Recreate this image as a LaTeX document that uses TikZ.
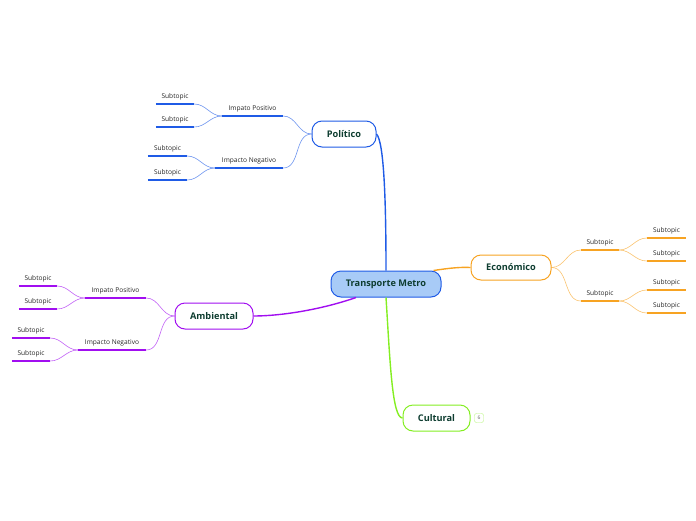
\documentclass[tikz,border=0pt]{standalone}
\usepackage{fontspec}
\setmainfont{Open Sans}
\definecolor{cblue}{HTML}{1F5BE6}
\definecolor{cpurple}{HTML}{A10EF0}
\definecolor{corange}{HTML}{F7A322}
\definecolor{cgreen}{HTML}{84EE22}
\definecolor{cfill}{HTML}{A8CBF7}
\definecolor{ctext}{HTML}{0E3D30}
\begin{document}
\begin{tikzpicture}[x=1pt,y=-1pt,
  mainbox/.style={draw,line width=1pt,rounded corners=10pt,fill=white,minimum height=26pt,
    font=\fontsize{9.2}{11}\selectfont\bfseries,text=ctext,inner sep=0pt},
  lbl/.style={anchor=south,inner xsep=0pt,inner ysep=3.8pt,text height=5pt,text depth=1.5pt,
    font=\fontsize{6.6}{7.5}\selectfont,text=black!85},
  uline/.style={line width=1.6pt},
  branch/.style={line width=0.6pt,draw opacity=0.65},
  trunk/.style={line width=1.4pt}]
\useasboundingbox (0,0) rectangle (696,520);

% central
\node[mainbox,draw=cblue,fill=cfill,minimum width=110pt] (cen) at (386,284) {Transporte Metro};
\node[mainbox,draw=cblue,minimum width=64pt] (pol) at (344,134) {Político};
\node[mainbox,draw=corange,minimum width=80pt,minimum height=25pt] (eco) at (511,267.5) {Económico};
\node[mainbox,draw=cpurple,minimum width=78pt] (amb) at (214,316) {Ambiental};
\node[mainbox,draw=cgreen,minimum width=67pt] (cul) at (436.5,418) {Cultural};
\node[draw=cgreen!60,rounded corners=2pt,minimum width=9pt,minimum height=9pt,inner sep=0pt,
  font=\fontsize{5}{6}\selectfont,text=black!60] (badge) at (479,418) {6};

% trunks
\draw[trunk,cblue] (cen.north) .. controls (386,200) and (384,142) .. (pol.east);
\draw[trunk,corange] ([xshift=-8pt]cen.north east) .. controls (450,268) and (460,267) .. (eco.west);
\draw[trunk,cpurple] ([xshift=-30pt]cen.south) .. controls (320,310) and (280,316) .. (amb.east);
\draw[trunk,cgreen] (cen.south) .. controls (390,360) and (392,418) .. (cul.west);

% Politico
\node[lbl,minimum width=61pt] (pp) at (252.5,116) {Impato Positivo};
\node[lbl,minimum width=68pt] (pn) at (249,168) {Impacto Negativo};
\node[lbl,minimum width=38pt] (pp1) at (175,104) {Subtopic};
\node[lbl,minimum width=38pt] (pp2) at (175,127) {Subtopic};
\node[lbl,minimum width=39pt] (pn1) at (167.5,156) {Subtopic};
\node[lbl,minimum width=39pt] (pn2) at (167.5,180) {Subtopic};
\foreach \n in {pp,pn,pp1,pp2,pn1,pn2}{\draw[uline,cblue] (\n.south west) -- (\n.south east);}
\draw[branch,cblue] (pol.west) to[out=180,in=0] (pp.south east);
\draw[branch,cblue] (pol.west) to[out=180,in=0] (pn.south east);
\draw[branch,cblue] (pp.south west) to[out=180,in=0] (pp1.south east);
\draw[branch,cblue] (pp.south west) to[out=180,in=0] (pp2.south east);
\draw[branch,cblue] (pn.south west) to[out=180,in=0] (pn1.south east);
\draw[branch,cblue] (pn.south west) to[out=180,in=0] (pn2.south east);

% Ambiental
\node[lbl,minimum width=61pt] (ap) at (115.5,298) {Impato Positivo};
\node[lbl,minimum width=68pt] (an) at (112,350) {Impacto Negativo};
\node[lbl,minimum width=38pt] (ap1) at (38,286) {Subtopic};
\node[lbl,minimum width=38pt] (ap2) at (38,309) {Subtopic};
\node[lbl,minimum width=38pt] (an1) at (31,338) {Subtopic};
\node[lbl,minimum width=38pt] (an2) at (31,361) {Subtopic};
\foreach \n in {ap,an,ap1,ap2,an1,an2}{\draw[uline,cpurple] (\n.south west) -- (\n.south east);}
\draw[branch,cpurple] (amb.west) to[out=180,in=0] (ap.south east);
\draw[branch,cpurple] (amb.west) to[out=180,in=0] (an.south east);
\draw[branch,cpurple] (ap.south west) to[out=180,in=0] (ap1.south east);
\draw[branch,cpurple] (ap.south west) to[out=180,in=0] (ap2.south east);
\draw[branch,cpurple] (an.south west) to[out=180,in=0] (an1.south east);
\draw[branch,cpurple] (an.south west) to[out=180,in=0] (an2.south east);

% Economico
\node[lbl,minimum width=38pt] (e1) at (600,250) {Subtopic};
\node[lbl,minimum width=38pt] (e2) at (600,301) {Subtopic};
\node[lbl,minimum width=39pt] (e11) at (666.5,238) {Subtopic};
\node[lbl,minimum width=39pt] (e12) at (666.5,261) {Subtopic};
\node[lbl,minimum width=39pt] (e21) at (666.5,290) {Subtopic};
\node[lbl,minimum width=39pt] (e22) at (666.5,313) {Subtopic};
\foreach \n in {e1,e2,e11,e12,e21,e22}{\draw[uline,corange] (\n.south west) -- (\n.south east);}
\draw[branch,corange] (eco.east) to[out=0,in=180] (e1.south west);
\draw[branch,corange] (eco.east) to[out=0,in=180] (e2.south west);
\draw[branch,corange] (e1.south east) to[out=0,in=180] (e11.south west);
\draw[branch,corange] (e1.south east) to[out=0,in=180] (e12.south west);
\draw[branch,corange] (e2.south east) to[out=0,in=180] (e21.south west);
\draw[branch,corange] (e2.south east) to[out=0,in=180] (e22.south west);
\end{tikzpicture}
\end{document}
